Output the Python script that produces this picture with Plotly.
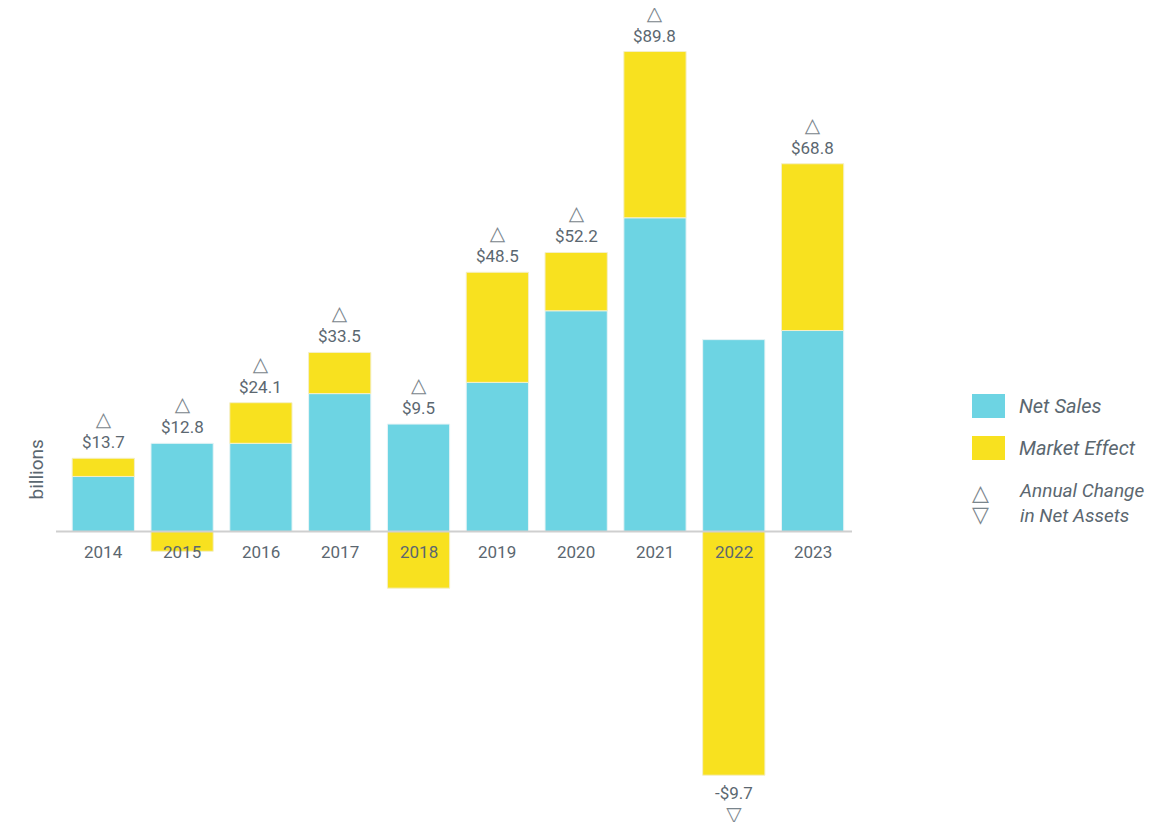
import plotly.graph_objects as go

years = ["2014", "2015", "2016", "2017", "2018", "2019", "2020", "2021", "2022", "2023"]
net_sales = [10.3, 16.5, 16.5, 25.8, 20.1, 27.9, 41.3, 58.7, 35.9, 37.6]
market_effect = [3.4, -3.7, 7.6, 7.7, -10.6, 20.6, 10.9, 31.1, -45.6, 31.2]
annual_change = ["$13.7", "$12.8", "$24.1", "$33.5", "$9.5", "$48.5", "$52.2", "$89.8", "-$9.7", "$68.8"]
change_sign = [1, 1, 1, 1, 1, 1, 1, 1, -1, 1]

CYAN = "#6DD4E3"
YELLOW = "#F8E11F"
GRAY = "#5B6770"
TRI = "#7A858C"
FONT = "Roboto"

OFF = 8  # page body margin
W, H = 1161 - OFF, 822 - OFF
MT, MB = 2, 2
plot_h = H - MT - MB
x0px, x1px = 56, 852

def tri(ch, size):
    return "<span style='font-family:DejaVu Sans;font-size:%dpx;color:%s'>%s</span>" % (size, TRI, ch)

fig = go.Figure()
fig.add_trace(go.Bar(x=list(range(len(years))), y=net_sales, name="Net Sales",
                     marker=dict(color=CYAN, line=dict(color="#E8F4F6", width=1))))
fig.add_trace(go.Bar(x=list(range(len(years))), y=market_effect, name="Market Effect",
                     marker=dict(color=YELLOW, line=dict(color="#F4EFC8", width=1))))

annotations = []
for i, (ns, me, lab, sg) in enumerate(zip(net_sales, market_effect, annual_change, change_sign)):
    top = ns + max(me, 0)
    bot = min(me, 0)
    if sg > 0:
        annotations.append(dict(x=i, y=top, text=tri("△", 20) + "<br>" + lab, showarrow=False,
                                yanchor="bottom", yshift=5, borderpad=0,
                                font=dict(family=FONT, size=17, color=GRAY)))
    else:
        annotations.append(dict(x=i, y=bot, text=lab + "<br>" + tri("▽", 20), showarrow=False,
                                yanchor="top", yshift=-7, borderpad=0,
                                font=dict(family=FONT, size=17, color=GRAY)))
    annotations.append(dict(x=i, y=0, text=years[i], showarrow=False, yshift=-20,
                            font=dict(family=FONT, size=17, color=GRAY)))

def px(x):
    return (x - OFF) / W

def py(y):
    return (H - MB - (y - OFF)) / plot_h

# y-axis title
annotations.append(dict(xref="paper", yref="paper", x=px(22), y=py(470), text="billions",
                        textangle=-90, showarrow=False,
                        font=dict(family=FONT, size=19, color=GRAY)))

shapes = [dict(type="line", xref="x", yref="y", x0=-0.6, x1=9.5, y0=0, y1=0,
               line=dict(color="#CFCFCF", width=2), layer="above")]

# legend
leg = [("Net Sales", CYAN, 406), ("Market Effect", YELLOW, 448)]
for name, col, yc in leg:
    shapes.append(dict(type="rect", xref="paper", yref="paper", x0=px(972), x1=px(1005),
                       y0=py(yc + 12), y1=py(yc - 12), fillcolor=col, line=dict(width=0)))
    annotations.append(dict(xref="paper", yref="paper", x=px(1017), y=py(yc), xanchor="left",
                            text="<i>" + name + "</i>", showarrow=False,
                            font=dict(family=FONT, size=20, color=GRAY)))
annotations.append(dict(xref="paper", yref="paper", x=px(990), y=py(503), borderpad=0,
                        text=tri("△", 22) + "<br>" + tri("▽", 22),
                        showarrow=False, font=dict(family="DejaVu Sans", size=17, color=TRI)))
annotations.append(dict(xref="paper", yref="paper", x=px(1018), y=py(503), xanchor="left",
                        align="left", text="<i>Annual Change<br>in Net Assets</i>", showarrow=False,
                        borderpad=0, font=dict(family=FONT, size=19, color=GRAY)))

base = 531.5 - OFF
scale = 5.345
ytop = (base - MT) / scale
ybot = -(H - MB - base) / scale

fig.update_layout(
    width=W, height=H,
    margin=dict(l=0, r=0, t=MT, b=MB),
    paper_bgcolor="white", plot_bgcolor="white",
    barmode="relative", bargap=0.21,
    showlegend=False,
    xaxis=dict(domain=[px(x0px), px(x1px)], range=[-0.6, 9.5], showticklabels=False,
               showgrid=False, zeroline=False, showline=False, ticks=""),
    yaxis=dict(range=[ybot, ytop], showticklabels=False, showgrid=False, zeroline=False,
               showline=False, ticks=""),
    annotations=annotations, shapes=shapes,
)

fig.write_html("out.html")
